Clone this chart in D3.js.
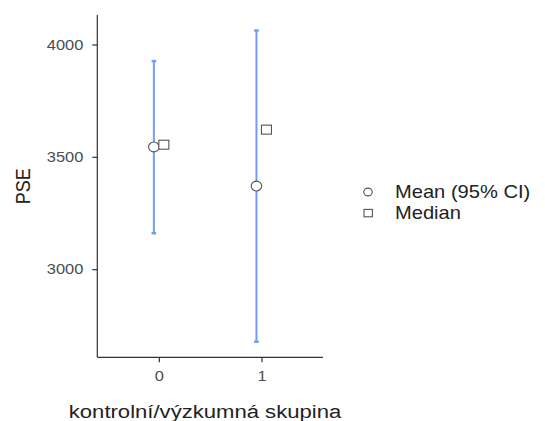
<!DOCTYPE html>
<html>
<head>
<meta charset="utf-8">
<script src="https://cdn.jsdelivr.net/npm/d3@7"></script>
<style>
  html, body { margin: 0; padding: 0; background: #fff; }
  svg { display: block; font-family: "Liberation Sans", Arial, Helvetica, sans-serif; }
</style>
</head>
<body>
<svg id="chart" width="545" height="421"></svg>
<script>
// Group labels (x axis)
const groups = ["0", "1"];
// Mean with 95% confidence interval, per group
const means = [3544, 3370];
const ciLower = [3160, 2677];
const ciUpper = [3926, 4062];
// Median per group
const medians = [3554, 3621];
// Y axis ticks
const yTicks = [3000, 3500, 4000];
// Legend entries
const legendLabels = ["Mean (95% CI)", "Median"];

const svg = d3.select("#chart");
const panel = { left: 97.3, right: 323, top: 15, bottom: 357.3 };
const textStretch = 1.15; // glyphs are drawn slightly wide

// Continuous y range with 5% expansion around the data
const lo = d3.min(ciLower), hi = d3.max(ciUpper);
const pad = (hi - lo) * 0.05;
const y = d3.scaleLinear().domain([lo - pad, hi + pad]).range([panel.bottom, panel.top]);
const x = d3.scalePoint().domain(groups).range([panel.left, panel.right]).padding(0.6);
const dodge = 5;

const axisColor = "#333";
const tickTextColor = "#4d4d4d";
const titleColor = "#222";
const ciColor = "#6f9ff0";
const pointStroke = "#555";

// Stretch a text node horizontally about its anchor point
function widen(sel) {
  sel.each(function () {
    const t = d3.select(this);
    const tx = +t.attr("x") || 0, ty = +t.attr("y") || 0;
    const prev = t.attr("transform") || "";
    t.attr("transform", `${prev} translate(${tx},${ty}) scale(${textStretch},1) translate(${-tx},${-ty})`);
  });
}

// Y axis
const gy = svg.append("g").attr("transform", `translate(${panel.left},0)`)
  .call(d3.axisLeft(y).tickValues(yTicks).tickFormat(d3.format("d")).tickSize(5).tickSizeOuter(0).tickPadding(9));
gy.select(".domain").attr("stroke", axisColor).attr("stroke-width", 1.2)
  .attr("d", `M0,${panel.top}V${panel.bottom}`);
gy.selectAll(".tick line").attr("stroke", axisColor).attr("stroke-width", 1.2);
gy.selectAll(".tick text").attr("fill", tickTextColor).attr("font-size", 14.3)
  .attr("font-family", "Liberation Sans, Arial, sans-serif").call(widen);

// X axis
const gx = svg.append("g").attr("transform", `translate(0,${panel.bottom})`)
  .call(d3.axisBottom(x).tickSize(5).tickSizeOuter(0).tickPadding(9));
gx.select(".domain").attr("stroke", axisColor).attr("stroke-width", 1.2)
  .attr("d", `M${panel.left},0H${panel.right}`);
gx.selectAll(".tick line").attr("stroke", axisColor).attr("stroke-width", 1.2);
gx.selectAll(".tick text").attr("fill", tickTextColor).attr("font-size", 14.3)
  .attr("font-family", "Liberation Sans, Arial, sans-serif").call(widen);

// Axis titles
svg.append("text")
  .attr("x", 205).attr("y", 418)
  .attr("text-anchor", "middle").attr("font-size", 19.2).attr("fill", titleColor)
  .text("kontrolní/výzkumná skupina").call(widen);
svg.append("text")
  .attr("transform", `translate(30,${(panel.top + panel.bottom) / 2}) scale(${textStretch},1) rotate(-90)`)
  .attr("text-anchor", "middle").attr("font-size", 18).attr("fill", titleColor)
  .text("PSE");

// Confidence interval bars
const cap = 2.3;
const ci = svg.append("g").attr("stroke", ciColor).attr("fill", "none");
groups.forEach((g, i) => {
  const cx = x(g) - dodge;
  ci.append("line").attr("x1", cx).attr("x2", cx)
    .attr("y1", y(ciLower[i])).attr("y2", y(ciUpper[i])).attr("stroke-width", 2);
  [ciLower[i], ciUpper[i]].forEach(v => {
    ci.append("line").attr("x1", cx - cap).attr("x2", cx + cap)
      .attr("y1", y(v)).attr("y2", y(v)).attr("stroke-width", 2.5);
  });
});

// Mean points
svg.append("g").selectAll("ellipse").data(groups).join("ellipse")
  .attr("cx", d => x(d) - dodge).attr("cy", (d, i) => y(means[i]))
  .attr("rx", 5.3).attr("ry", 4.9)
  .attr("fill", "#fff").attr("stroke", pointStroke).attr("stroke-width", 1.1);

// Median points
const sqW = 10, sqH = 9;
svg.append("g").selectAll("rect").data(groups).join("rect")
  .attr("x", d => x(d) + dodge - sqW / 2).attr("y", (d, i) => y(medians[i]) - sqH / 2)
  .attr("width", sqW).attr("height", sqH)
  .attr("fill", "#fff").attr("stroke", pointStroke).attr("stroke-width", 1.1);

// Legend
const legend = svg.append("g");
const legendY = [192, 213];
legend.append("ellipse").attr("cx", 368).attr("cy", legendY[0]).attr("rx", 4.2).attr("ry", 3.9)
  .attr("fill", "#fff").attr("stroke", pointStroke).attr("stroke-width", 1.1);
legend.append("rect").attr("x", 364).attr("y", legendY[1] - 3.6).attr("width", 8.4).attr("height", 7.4)
  .attr("fill", "#fff").attr("stroke", pointStroke).attr("stroke-width", 1.1);
legendLabels.forEach((t, i) => {
  legend.append("text").attr("x", 395).attr("y", legendY[i] + 6.5)
    .attr("font-size", 17.5).attr("fill", titleColor).text(t).call(widen);
});
</script>
</body>
</html>
